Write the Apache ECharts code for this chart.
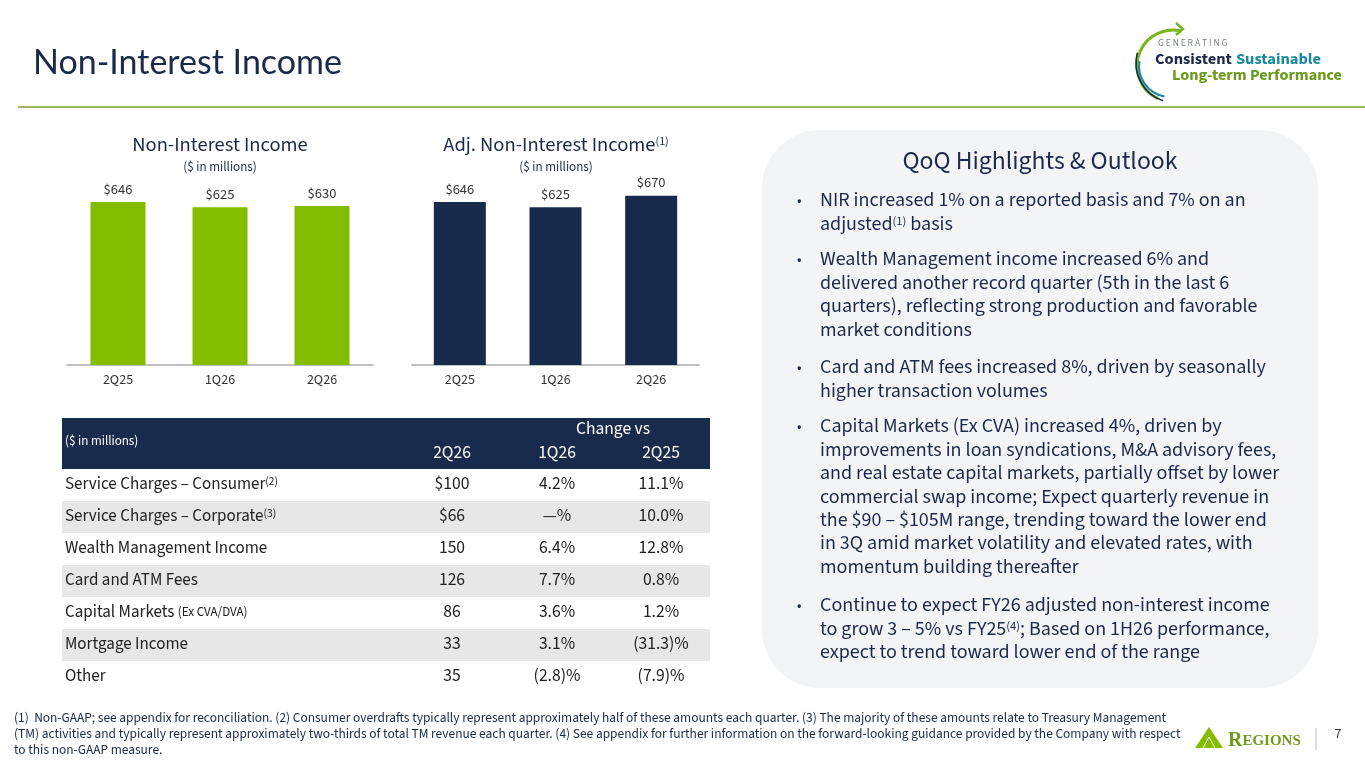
<!DOCTYPE html>
<html>
<head>
<meta charset="utf-8">
<script src="https://cdn.jsdelivr.net/npm/echarts@6/dist/echarts.min.js"></script>
<style>
  html, body { margin: 0; padding: 0; background: #fff; }
  #main { width: 1365px; height: 768px; }
</style>
</head>
<body>
<div id="main"></div>
<script>
// data
var quarters = ['2Q25', '1Q26', '2Q26'];
var nonInterestIncome = [646, 625, 630];
var adjNonInterestIncome = [646, 625, 670];

var tableRows = ['Service Charges \u2013 Consumer', 'Service Charges \u2013 Corporate', 'Wealth Management Income',
  'Card and ATM Fees', 'Capital Markets', 'Mortgage Income', 'Other'];
var tableRowNotes = ['(2)', '(3)', '', '', '', '', ''];
var tableRowSmall = ['', '', '', '', '(Ex CVA/DVA)', '', ''];
var value2Q26 = ['$100', '$66', '150', '126', '86', '33', '35'];
var changeVs1Q26 = ['4.2%', '\u2014%', '6.4%', '7.7%', '3.6%', '3.1%', '(2.8)%'];
var changeVs2Q25 = ['11.1%', '10.0%', '12.8%', '0.8%', '1.2%', '(31.3)%', '(7.9)%'];

var bullets = [
  ['NIR increased 1% on a reported basis and 7% on an', 'adjusted{s|(1)} basis'],
  ['Wealth Management income increased 6% and', 'delivered another record quarter (5th in the last 6',
   'quarters), reflecting strong production and favorable', 'market conditions'],
  ['Card and ATM fees increased 8%, driven by seasonally', 'higher transaction volumes'],
  ['Capital Markets (Ex CVA) increased 4%, driven by', 'improvements in loan syndications, M&A advisory fees,',
   'and real estate capital markets, partially offset by lower', 'commercial swap income; Expect quarterly revenue in',
   'the $90 \u2013 $105M range, trending toward the lower end', 'in 3Q amid market volatility and elevated rates, with',
   'momentum building thereafter'],
  ['Continue to expect FY26 adjusted non-interest income', 'to grow 3 \u2013 5% vs FY25{s|(4)}; Based on 1H26 performance,',
   'expect to trend toward lower end of the range']
];

var footnotes = [
  '(1)  Non-GAAP; see appendix for reconciliation. (2) Consumer overdrafts typically represent approximately half of these amounts each quarter. (3) The majority of these amounts relate to Treasury Management',
  '(TM) activities and typically represent approximately two-thirds of total TM revenue each quarter. (4) See appendix for further information on the forward-looking guidance provided by the Company with respect',
  'to this non-GAAP measure.'
];

var NAVY = '#1b2a4a';
var GREEN = '#84bd00';
var BODY = '"Source Sans Pro", "Source Sans 3", Roboto, sans-serif';

var chartDom = document.getElementById('main');
var myChart = echarts.init(chartDom);

var g = [];
function txt(x, y, text, size, color, align, extra) {
  var st = {
    x: x, y: y, text: text, fill: color,
    font: (extra && extra.weight ? extra.weight + ' ' : '') + size + 'px ' + (extra && extra.family ? extra.family : BODY),
    textAlign: align || 'left', textVerticalAlign: 'middle'
  };
  if (extra && extra.rich) st.rich = extra.rich;
  g.push({ type: 'text', silent: true, z: 10, style: st });
}

// page title + rule
txt(33, 63, 'Non-Interest Income', 34, NAVY, 'left', { family: 'Lato, sans-serif' });
g.push({ type: 'line', silent: true, shape: { x1: 18, y1: 107, x2: 1365, y2: 107 },
  style: { stroke: '#7f9c3a', lineWidth: 1.5 } });

// top-right logo
g.push({ type: 'arc', silent: true, shape: { cx: 1173, cy: 66, r: 36, startAngle: 2.0, endAngle: 4.95, clockwise: true },
  style: { stroke: '#7ab51d', lineWidth: 3, fill: null } });
g.push({ type: 'arc', silent: true, shape: { cx: 1176, cy: 63, r: 40, startAngle: 1.9, endAngle: 3.4, clockwise: true },
  style: { stroke: NAVY, lineWidth: 1.6, fill: null } });
g.push({ type: 'arc', silent: true, shape: { cx: 1170, cy: 66, r: 31, startAngle: 1.75, endAngle: 3.3, clockwise: true },
  style: { stroke: '#1b8aa0', lineWidth: 2.2, fill: null } });
g.push({ type: 'polyline', silent: true, shape: { points: [[1176, 23], [1183, 29], [1176, 35]] },
  style: { stroke: '#7ab51d', lineWidth: 2.5, fill: null } });
txt(1158, 44, 'G E N E R A T I N G', 9.5, '#7a7f86', 'left');
txt(1155, 60, 'Consistent', 16.4, NAVY, 'left', { weight: 'bold' });
txt(1236, 60, 'Sustainable', 16.4, '#1b8aa0', 'left', { weight: 'bold' });
txt(1172, 76, 'Long-term Performance', 16.2, '#6a9a1a', 'left', { weight: 'bold' });

// chart titles
txt(220, 147, 'Non-Interest Income', 20.5, NAVY, 'center');
txt(220, 168, '($ in millions)', 13, NAVY, 'center');
txt(556, 147, 'Adj. Non-Interest Income{s|(1)}', 20.5, NAVY, 'center',
  { rich: { s: { fontSize: 12, verticalAlign: 'top', fill: NAVY, fontFamily: BODY } } });
txt(556, 168, '($ in millions)', 13, NAVY, 'center');

// table
var tX = 62, tW = 648, hTop = 418, hH = 51, rowH = 32;
var colX = [452, 557, 661];
g.push({ type: 'rect', silent: true, shape: { x: tX, y: hTop, width: tW, height: hH }, style: { fill: '#182b4d' } });
txt(65, 442, '($ in millions)', 13, '#ffffff', 'left');
txt(613, 430, 'Change vs', 17.5, '#ffffff', 'center');
txt(colX[0], 454, '2Q26', 17.5, '#ffffff', 'center');
txt(colX[1], 454, '1Q26', 17.5, '#ffffff', 'center');
txt(colX[2], 454, '2Q25', 17.5, '#ffffff', 'center');
var rowRich = {
  s: { fontSize: 11.5, verticalAlign: 'top', fill: '#222', fontFamily: BODY },
  m: { fontSize: 13, fill: '#222', fontFamily: BODY }
};
tableRows.forEach(function (name, i) {
  var y0 = hTop + hH + i * rowH;
  if (i % 2 === 1) {
    g.push({ type: 'rect', silent: true, shape: { x: tX, y: y0, width: tW, height: rowH }, style: { fill: '#e7e7e7' } });
  }
  var cy = y0 + rowH / 2;
  var label = name + (tableRowNotes[i] ? '{s|' + tableRowNotes[i] + '}' : '') + (tableRowSmall[i] ? ' {m|' + tableRowSmall[i] + '}' : '');
  txt(65, cy, label, 17, '#222', 'left', { rich: rowRich });
  txt(colX[0], cy, value2Q26[i], 17.5, '#222', 'center');
  txt(colX[1], cy, changeVs1Q26[i], 17.5, '#222', 'center');
  txt(colX[2], cy, changeVs2Q25[i], 17.5, '#222', 'center');
});

// highlights panel
g.push({ type: 'rect', silent: true, z: 1, shape: { x: 762, y: 130, width: 556, height: 558, r: 58 }, style: { fill: '#f3f4f6' } });
txt(1040, 163, 'QoQ Highlights & Outlook', 25.7, NAVY, 'center');
var bulletStarts = [202, 261, 369, 428, 607];
var bulletRich = { s: { fontSize: 12.5, verticalAlign: 'top', fill: NAVY, fontFamily: BODY } };
bullets.forEach(function (lines, b) {
  txt(797, bulletStarts[b], '\u2022', 15, NAVY, 'left');
  lines.forEach(function (line, k) {
    txt(820, bulletStarts[b] + k * 23.4, line, 20, NAVY, 'left', { rich: bulletRich });
  });
});

// footnotes
footnotes.forEach(function (line, i) {
  txt(14, 719 + i * 16, line, 13.4, NAVY, 'left');
});

// Regions logo + page number
g.push({ type: 'polygon', silent: true, shape: { points: [[1195, 748], [1209, 727], [1223, 748]] }, style: { fill: '#84bd00' } });
g.push({ type: 'polyline', silent: true, shape: { points: [[1203, 748], [1209, 737], [1215, 748]] }, style: { stroke: '#ffffff', lineWidth: 1, fill: null } });
txt(1228, 741, 'R{c|EGIONS}', 20, '#6f9a1c', 'left', {
  family: '"Liberation Serif", serif', weight: 'bold',
  rich: { c: { fontSize: 15, fontWeight: 'bold', fontFamily: '"Liberation Serif", serif', fill: '#6f9a1c' } }
});
g.push({ type: 'line', silent: true, shape: { x1: 1316, y1: 728, x2: 1316, y2: 750 }, style: { stroke: '#bbbbbb', lineWidth: 1 } });
txt(1338, 735, '7', 14, '#333', 'center');

function xAx(gi) {
  return {
    type: 'category', gridIndex: gi, data: quarters,
    axisLine: { lineStyle: { color: '#c0c0c0', width: 2 } },
    axisTick: { show: false },
    axisLabel: { color: '#333', fontSize: 14, margin: 9, fontFamily: BODY }
  };
}
function yAx(gi) {
  return { type: 'value', gridIndex: gi, min: 0, max: 800, show: false, splitLine: { show: false } };
}
function barLabel() {
  return { show: true, position: 'top', distance: 4, color: '#333', fontSize: 14.5, fontFamily: BODY,
    formatter: function (p) { return '$' + p.value; } };
}

var option = {
  animation: false,
  grid: [
    { left: 67, top: 163, width: 306, height: 202 },
    { left: 412, top: 163, width: 287, height: 202 }
  ],
  xAxis: [xAx(0), xAx(1)],
  yAxis: [yAx(0), yAx(1)],
  series: [
    { type: 'bar', xAxisIndex: 0, yAxisIndex: 0, data: nonInterestIncome, barWidth: 55,
      itemStyle: { color: GREEN }, label: barLabel() },
    { type: 'bar', xAxisIndex: 1, yAxisIndex: 1, data: adjNonInterestIncome, barWidth: 52,
      itemStyle: { color: '#172a4b' }, label: barLabel() }
  ],
  graphic: g
};

option && myChart.setOption(option);
</script>
</body>
</html>
